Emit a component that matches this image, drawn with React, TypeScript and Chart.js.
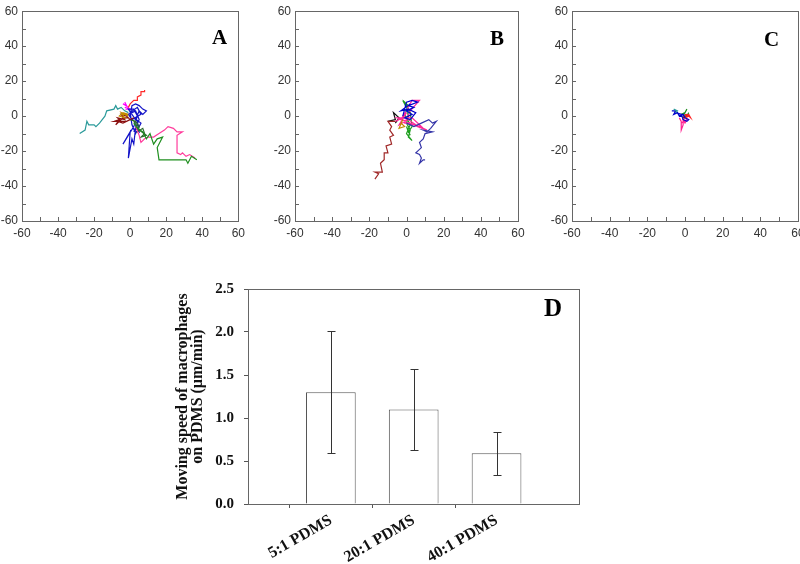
import React, { useEffect, useRef } from "react";
import { Chart, registerables } from "chart.js";

Chart.register(...registerables);

type Pt = [number, number];

const SERIF = '"Liberation Serif", "Times New Roman", serif';
const SANS = '"Liberation Sans", Arial, sans-serif';

// ---------- Panel A trajectories (µm) ----------
const A_CYAN: Pt[] = [[-28, -10], [-25, -8], [-24, -3], [-23, -5], [-20, -5], [-19, -6], [-17, -4], [-14, 0], [-13, 3], [-9, 4], [-8, 6], [-7, 4], [-5, 5], [-3, 3], [-1, 2]];
const A_GREEN: Pt[] = [[2, -4], [4, -7], [7, -9], [9, -13], [11, -10], [13, -16], [15, -13], [18, -12], [15, -18], [16, -25], [20, -25], [24, -25], [28, -25], [31, -25], [32, -27], [34, -23], [37, -25]];
const A_PINK: Pt[] = [[3, -6], [5, -11], [6, -15], [8, -13], [10, -12], [13, -12], [16, -10], [19, -8], [21, -6], [24, -7], [26, -9], [29, -9], [26, -11], [26, -15], [26, -21], [28, -22], [29, -21], [31, -23], [33, -22], [36, -24]];
const A_RED: Pt[] = [[-1, 5], [0, 7], [2, 9], [4, 9], [4, 11], [6, 12], [6, 14], [8, 14], [8, 15]];
const A_MAGENTA: Pt[] = [[-3, 8], [-2, 6], [-4, 7], [-1, 5], [-2, 4], [0, 4], [-3, 5]];
const A_BLUE: Pt[] = [[0, 0], [1, 6], [3, 7], [5, 6], [7, 4], [9, 3], [7, 1], [5, 3], [3, -2], [1, 1], [-1, 4], [2, 4], [4, 0], [2, -6], [-4, -16], [0, -9], [-1, -24], [1, -13], [2, -16], [3, -7], [5, -9], [4, -3], [2, -1], [6, -4], [3, -10], [1, -5], [0, 2], [4, 5], [6, 1], [1, -2], [-1, 1], [3, 3], [5, -2], [2, -9]];
const A_BROWN: Pt[] = [[-1, -1], [-4, -1], [-8, -5], [-6, -2], [-9, -3], [-5, -3], [-7, -1], [-3, -2], [-5, 1], [-2, 0], [0, -2], [2, -1], [-4, -4], [-7, -3], [-2, -3]];
const A_ORANGE: Pt[] = [[-1, 1], [-4, 2], [-6, 0], [-3, -1], [-5, 2], [-1, 0]];
const A_DARKGREEN: Pt[] = [[0, -2], [3, -3], [5, -6], [4, -9], [7, -7], [8, -10], [6, -12], [9, -11], [5, -8], [2, -3]];

// ---------- Panel B trajectories ----------
const B_BROWN: Pt[] = [[-6, -3], [-10, -3], [-8, -6], [-9, -8], [-7, -11], [-9, -12], [-8, -16], [-11, -17], [-10, -21], [-12, -21], [-12, -25], [-14, -27], [-13, -32], [-17, -32], [-15, -33], [-17, -36]];
const B_NAVY: Pt[] = [[0, -4], [4, -6], [8, -4], [12, -2], [14, -4], [16, -3], [13, -7], [11, -9], [9, -8], [14, -9], [10, -10], [9, -13], [7, -15], [8, -18], [6, -20], [5, -21], [7, -22], [8, -24], [7, -27], [9, -25], [10, -25]];
const B_BLUE: Pt[] = [[-2, 0], [0, 8], [3, 9], [6, 8], [1, 6], [4, 5], [0, 3], [3, 1], [-1, -1], [2, -2], [5, 2], [1, 4], [-3, 3], [2, 7]];
const B_PINK: Pt[] = [[-6, -3], [-2, -1], [0, 2], [-4, -5], [1, -2], [5, -5], [9, -7], [11, -8], [6, -6], [2, -4], [-3, -2], [3, 9], [7, 9], [2, 3], [-1, -4], [8, -6], [3, -1], [-5, -1], [0, -3]];
const B_GREEN: Pt[] = [[-2, 9], [0, 5], [1, 0], [0, -4], [2, -8], [1, -12], [3, -14], [0, -10], [2, -5], [-1, 1], [1, 6], [-1, 8], [2, 2], [3, -6], [1, -9], [0, -6], [2, -11]];
const B_BLACK: Pt[] = [[-10, -3], [-6, -2], [-7, 2], [-4, -1], [-6, -4]];
const B_ORANGE: Pt[] = [[-3, -4], [-1, -6], [-4, -7], [-2, -2]];
const B_CYAN: Pt[] = [[-1, 7], [1, 2], [-2, 4]];

// ---------- Panel C trajectories ----------
const C_BLUE: Pt[] = [[-7, 3], [-5, 3], [-6, 1], [-4, 2], [-3, 0], [-1, 1], [0, -1], [2, -2], [1, -3], [-1, -2], [-2, 1], [-5, 2]];
const C_PINK: Pt[] = [[-3, -1], [-2, -3], [-2, -8], [-1, -5], [-1, -2], [0, -4], [1, -2], [-2, -4]];
const C_RED: Pt[] = [[-1, 0], [1, 1], [3, -1], [2, 1], [0, -1], [2, 0]];
const C_GREEN: Pt[] = [[-2, 1], [0, 2], [1, 4], [-1, 0], [1, 0], [2, 2]];
const C_TEAL: Pt[] = [[-6, 4], [-4, 3], [-5, 2]];
const C_DARKRED: Pt[] = [[-1, -1], [1, 0], [0, 1]];

const TRAJ_MIN = -60;
const TRAJ_MAX = 60;
const TRAJ_STEP = 20;
const TRAJ_MINOR_STEP = 10;

// ---------- Panel D bar chart ----------
const SPEED_CATEGORIES = ["", "5:1 PDMS", "20:1 PDMS", "40:1 PDMS", ""];
const SPEED_VALUES: (number | null)[] = [null, 1.3, 1.1, 0.59, null];
const SPEED_ERRORS = [0, 0.71, 0.47, 0.25, 0];
const SPEED_Y_MAX = 2.5;
const SPEED_Y_STEP = 0.5;
const SPEED_Y_TITLE = ["Moving speed of macrophages", "on PDMS (\u03bcm/min)"];

type Series = { pts: Pt[]; color: string };

const SERIES_A: Series[] = [
  { pts: A_CYAN, color: "#2a9a9a" },
  { pts: A_GREEN, color: "#1f8f1f" },
  { pts: A_PINK, color: "#ff3c9c" },
  { pts: A_RED, color: "#ff2a2a" },
  { pts: A_ORANGE, color: "#c08a00" },
  { pts: A_BROWN, color: "#8b1010" },
  { pts: A_DARKGREEN, color: "#2e6b2e" },
  { pts: A_BLUE, color: "#1414c8" },
  { pts: A_MAGENTA, color: "#ff00ff" },
];
const SERIES_B: Series[] = [
  { pts: B_BROWN, color: "#a02828" },
  { pts: B_NAVY, color: "#3535a8" },
  { pts: B_BLUE, color: "#0000cc" },
  { pts: B_ORANGE, color: "#c08a00" },
  { pts: B_CYAN, color: "#2a9a9a" },
  { pts: B_PINK, color: "#ff2a9a" },
  { pts: B_GREEN, color: "#1f9f1f" },
  { pts: B_BLACK, color: "#111111" },
];
const SERIES_C: Series[] = [
  { pts: C_TEAL, color: "#2a9a9a" },
  { pts: C_BLUE, color: "#0000cc" },
  { pts: C_PINK, color: "#ff2090" },
  { pts: C_RED, color: "#ff2020" },
  { pts: C_GREEN, color: "#1f8f1f" },
  { pts: C_DARKRED, color: "#8b1010" },
];

function decorPlugin(letter: string, lx: number, ly: number, size: number, minor: boolean) {
  return {
    id: "decor",
    afterDraw(chart: any) {
      const { ctx, chartArea: a } = chart;
      ctx.save();
      ctx.strokeStyle = "#666";
      ctx.lineWidth = 1;
      ctx.strokeRect(Math.round(a.left) + 0.5, Math.round(a.top) + 0.5, Math.round(a.right - a.left), Math.round(a.bottom - a.top));
      if (minor) {
        const xs = chart.scales.x;
        const ys = chart.scales.y;
        ctx.beginPath();
        for (let v = TRAJ_MIN + TRAJ_MINOR_STEP; v < TRAJ_MAX; v += TRAJ_MINOR_STEP) {
          const px = Math.round(xs.getPixelForValue(v)) + 0.5;
          ctx.moveTo(px, a.bottom);
          ctx.lineTo(px, a.bottom - 4);
          const py = Math.round(ys.getPixelForValue(v)) + 0.5;
          ctx.moveTo(a.left, py);
          ctx.lineTo(a.left + 4, py);
        }
        ctx.stroke();
      }
      ctx.fillStyle = "#000";
      ctx.font = `bold ${size}px ${SERIF}`;
      ctx.textAlign = "center";
      ctx.textBaseline = "middle";
      ctx.fillText(letter, lx, ly);
      ctx.restore();
    },
  };
}

type TrajProps = {
  left: number;
  width: number;
  yWidth: number;
  padTop: number;
  padRight: number;
  letter: string;
  lx: number;
  ly: number;
  series: Series[];
};

function TrajPanel(p: TrajProps) {
  const ref = useRef<HTMLCanvasElement | null>(null);
  useEffect(() => {
    if (!ref.current) return;
    const tickFont = { family: SANS, size: 12 };
    const axis = (isX: boolean) => ({
      type: "linear" as const,
      min: TRAJ_MIN,
      max: TRAJ_MAX,
      ticks: { stepSize: TRAJ_STEP, font: tickFont, color: "#333", padding: isX ? 5 : 4 },
      grid: { display: true, drawOnChartArea: false, drawTicks: false },
      border: { display: false },
      afterFit: (s: any) => {
        if (isX) s.height = 24;
        else s.width = p.yWidth;
      },
    });
    const chart = new Chart(ref.current, {
      type: "scatter",
      data: {
        datasets: p.series.map((s) => ({
          data: s.pts.map(([x, y]) => ({ x, y })),
          borderColor: s.color,
          backgroundColor: s.color,
          showLine: true,
          pointRadius: 0,
          borderWidth: 1.2,
          tension: 0,
        })),
      },
      options: {
        responsive: false,
        animation: false,
        layout: { padding: { top: p.padTop, right: p.padRight, left: 0, bottom: 0 } },
        plugins: { legend: { display: false }, tooltip: { enabled: false } },
        scales: { x: axis(true), y: axis(false) },
      },
      plugins: [decorPlugin(p.letter, p.lx, p.ly, 21, true)],
    } as any);
    return () => chart.destroy();
  }, []);
  return (
    <canvas
      ref={ref}
      width={p.width}
      height={245}
      style={{ position: "absolute", left: p.left, top: 0, width: p.width, height: 245 }}
    />
  );
}

const errorBarPlugin = {
  id: "errorBars",
  afterDatasetsDraw(chart: any) {
    const { ctx } = chart;
    const meta = chart.getDatasetMeta(0);
    const ys = chart.scales.y;
    ctx.save();
    ctx.strokeStyle = "#333";
    ctx.lineWidth = 1;
    SPEED_VALUES.forEach((v, i) => {
      if (v == null) return;
      const x = Math.round(meta.data[i].x) + 0.5;
      const e = SPEED_ERRORS[i];
      const yt = Math.round(ys.getPixelForValue(v + e)) + 0.5;
      const yb = Math.round(ys.getPixelForValue(v - e)) + 0.5;
      ctx.beginPath();
      ctx.moveTo(x, yt);
      ctx.lineTo(x, yb);
      ctx.moveTo(x - 4, yt);
      ctx.lineTo(x + 4, yt);
      ctx.moveTo(x - 4, yb);
      ctx.lineTo(x + 4, yb);
      ctx.stroke();
    });
    ctx.restore();
  },
};

function SpeedPanel() {
  const ref = useRef<HTMLCanvasElement | null>(null);
  useEffect(() => {
    if (!ref.current) return;
    const boldFont = { family: SERIF, size: 15, weight: "bold" as const };
    const chart = new Chart(ref.current, {
      type: "bar",
      data: {
        labels: SPEED_CATEGORIES,
        datasets: [
          {
            data: SPEED_VALUES,
            backgroundColor: "#ffffff",
            borderColor: "#555",
            borderWidth: 1,
            barPercentage: 0.6,
            categoryPercentage: 1.0,
          },
        ],
      },
      options: {
        responsive: false,
        animation: false,
        layout: { padding: { top: 15, right: 9, left: 15, bottom: 0 } },
        plugins: { legend: { display: false }, tooltip: { enabled: false } },
        scales: {
          x: {
            type: "category",
            offset: false,
            ticks: { font: { family: SERIF, size: 16, weight: "bold" }, color: "#111", minRotation: 30, maxRotation: 30, autoSkip: false, padding: 3 },
            grid: {
              drawOnChartArea: false,
              tickLength: 4,
              tickColor: (c: any) => (c.index === 0 || c.index === SPEED_CATEGORIES.length - 1 ? "rgba(0,0,0,0)" : "#555"),
            },
            border: { color: "#666" },
            afterFit: (s: any) => {
              s.height = 60;
            },
          },
          y: {
            min: 0,
            max: SPEED_Y_MAX,
            ticks: { stepSize: SPEED_Y_STEP, font: boldFont, color: "#111", padding: 10, callback: (v: any) => Number(v).toFixed(1) },
            grid: { drawOnChartArea: false, tickLength: 4, tickColor: "#555" },
            border: { color: "#666" },
            title: {
              display: true,
              text: SPEED_Y_TITLE,
              font: { family: SERIF, size: 16, weight: "bold", lineHeight: 0.95 },
              color: "#111",
              padding: 0,
            },
            afterFit: (s: any) => {
              s.width = 73;
            },
          },
        },
      },
      plugins: [errorBarPlugin, decorPlugin("D", 393, 40, 25, false)],
    } as any);
    return () => chart.destroy();
  }, []);
  return (
    <canvas
      ref={ref}
      width={432}
      height={294}
      style={{ position: "absolute", left: 160, top: 270, width: 432, height: 294 }}
    />
  );
}

export default function App() {
  return (
    <div
      style={{
        position: "fixed",
        left: 0,
        top: 0,
        width: 800,
        height: 564,
        overflow: "hidden",
        background: "#fff",
      }}
    >
      <TrajPanel left={0} width={250} yWidth={22} padTop={8} padRight={11} letter="A" lx={219.5} ly={39} series={SERIES_A} />
      <TrajPanel left={265} width={265} yWidth={30} padTop={9} padRight={12} letter="B" lx={232} ly={39.5} series={SERIES_B} />
      <TrajPanel left={540} width={270} yWidth={32} padTop={10} padRight={12} letter="C" lx={231.5} ly={41} series={SERIES_C} />
      <SpeedPanel />
    </div>
  );
}
